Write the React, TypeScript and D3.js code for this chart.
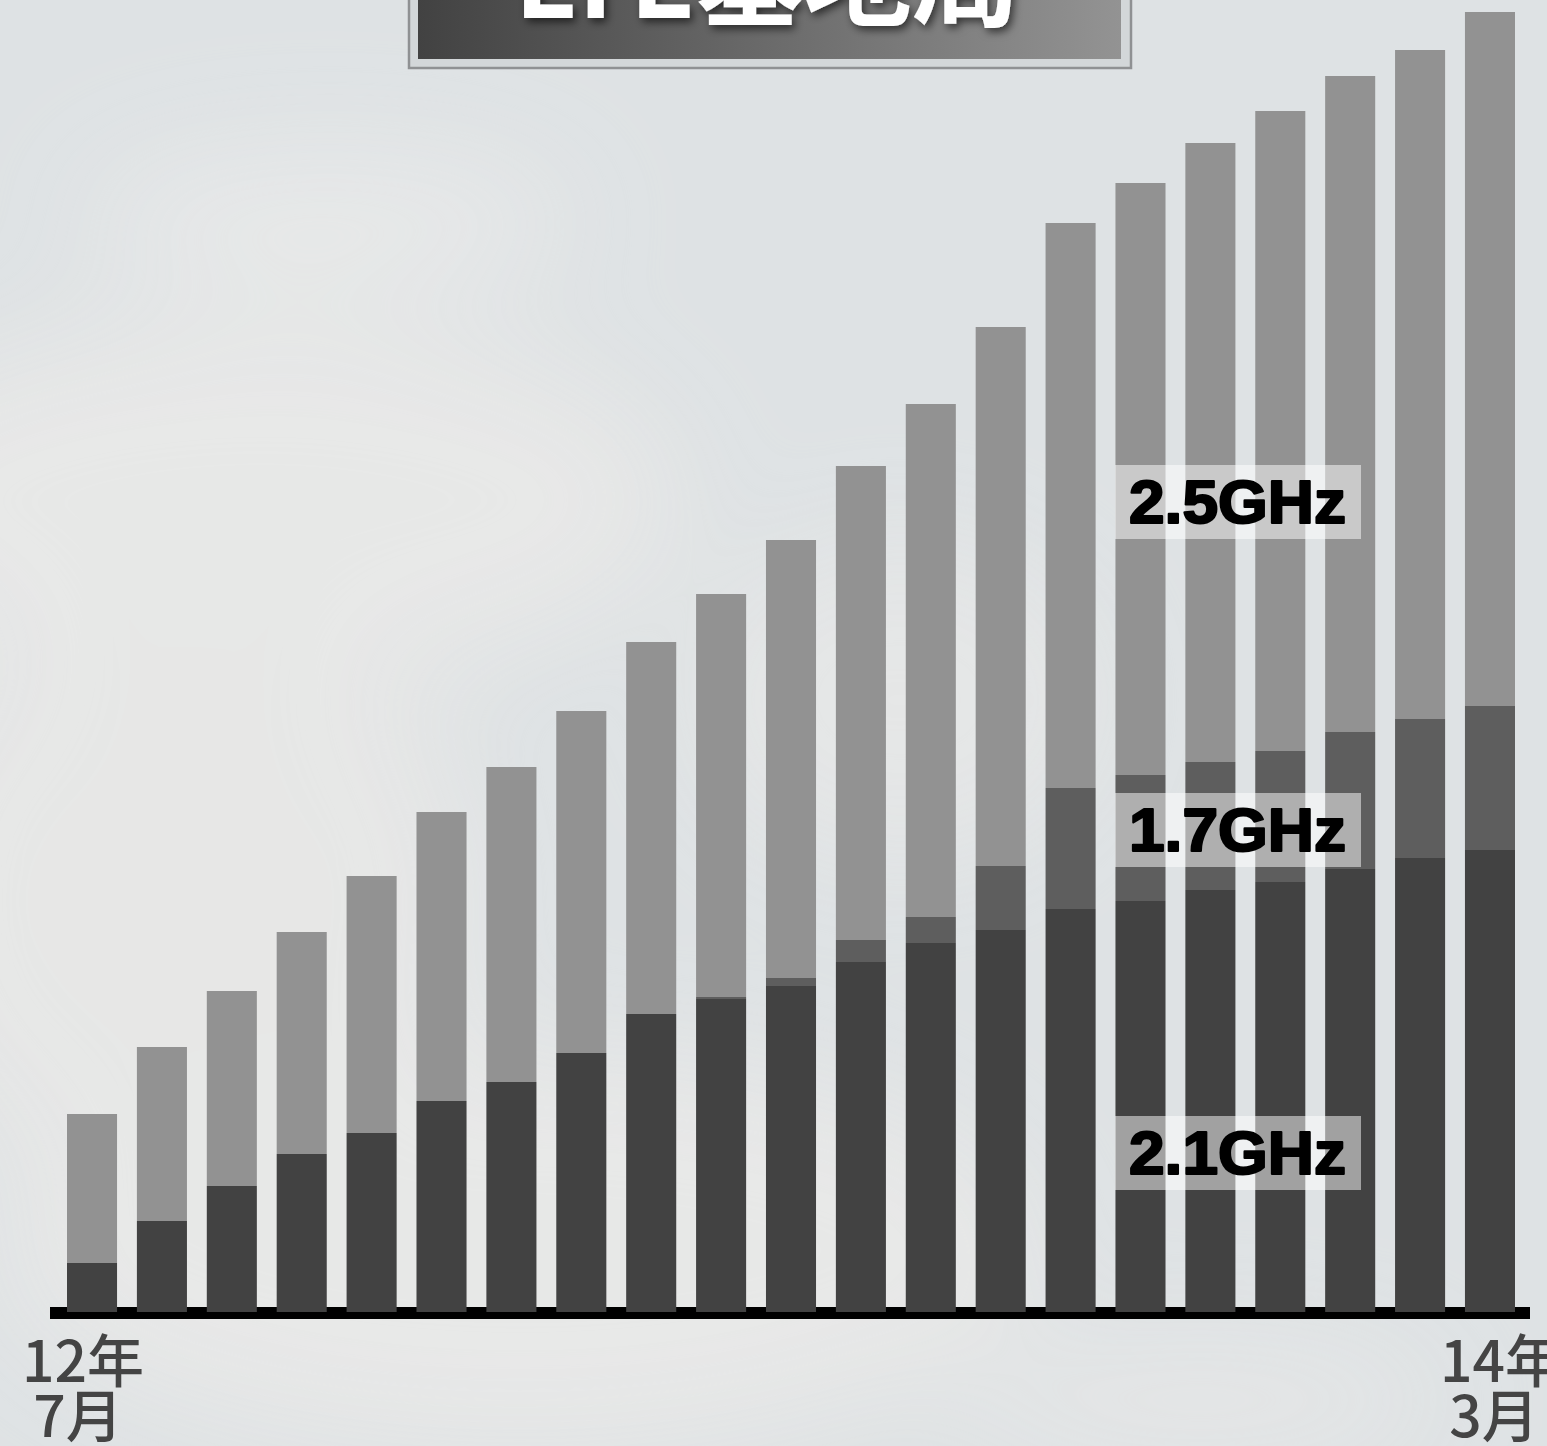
import { useEffect } from "react";
import * as d3 from "d3";

// months from 12年7月 to 14年3月
const months = [
  "2012-07", "2012-08", "2012-09", "2012-10", "2012-11", "2012-12",
  "2013-01", "2013-02", "2013-03", "2013-04", "2013-05", "2013-06",
  "2013-07", "2013-08", "2013-09", "2013-10", "2013-11", "2013-12",
  "2014-01", "2014-02", "2014-03",
];

// base stations, arbitrary units
const band21 = [4.9, 9.1, 12.6, 15.8, 17.9, 21.1, 23.0, 25.9, 29.8, 31.3, 32.6, 35.0, 36.9, 38.2, 40.3, 41.1, 42.2, 43.0, 44.3, 45.4, 46.2];
const band17 = [0, 0, 0, 0, 0, 0, 0, 0, 0, 0.2, 0.8, 2.2, 2.6, 6.4, 12.1, 12.6, 12.8, 13.1, 13.7, 13.9, 14.4];
const band25 = [14.9, 17.4, 19.5, 22.2, 25.7, 28.9, 31.5, 34.2, 37.2, 40.3, 43.8, 47.4, 51.3, 53.9, 56.5, 59.2, 61.9, 64.0, 65.6, 66.9, 69.4];

const seriesKeys = ["2.1GHz", "1.7GHz", "2.5GHz"];
const seriesColors = ["#424242", "#5e5e5e", "#929292"];

const firstTick = ["12年", "7月"];
const lastTick = ["14年", "3月"];

const W = 1547;
const H = 1446;

type Row = { month: string; [k: string]: number | string };

export default function App() {
  useEffect(() => {
    document.body.style.margin = "0";
  }, []);

  const rows: Row[] = months.map((m, i) => ({
    month: m,
    "2.1GHz": band21[i],
    "1.7GHz": band17[i],
    "2.5GHz": band25[i],
  }));

  const stack = d3.stack<Row>().keys(seriesKeys).value((d, k) => d[k] as number);
  const layers = stack(rows);

  const x = d3.scaleBand().domain(months).range([67, 1515]).paddingInner(0.284).paddingOuter(0);
  const y = d3.scaleLinear().domain([0, 130]).range([1312, 12]);

  // label boxes sit on top of the right-hand bars
  const labels = [
    { text: "2.5GHz", top: 465 },
    { text: "1.7GHz", top: 793 },
    { text: "2.1GHz", top: 1116 },
  ];

  const x0 = (x(months[0]) ?? 0) + x.bandwidth() / 2;
  const xN = (x(months[months.length - 1]) ?? 0) + x.bandwidth() / 2;

  return (
    <svg width={W} height={H} style={{ display: "block" }}>
      <defs>
        <linearGradient id="titleGrad" x1="0" x2="1" y1="0" y2="0">
          <stop offset="0" stopColor="#424242" />
          <stop offset="1" stopColor="#939393" />
        </linearGradient>
        <filter id="blur" x="-50%" y="-50%" width="200%" height="200%">
          <feGaussianBlur stdDeviation="60" />
        </filter>
        <filter id="shadow" x="-10%" y="-50%" width="120%" height="200%">
          <feDropShadow dx="3" dy="4" stdDeviation="4" floodColor="#000" floodOpacity="0.6" />
        </filter>
      </defs>

      {/* cloudy background */}
      <rect width={W} height={H} fill="#dee2e4" />
      <g filter="url(#blur)" opacity={0.9}>
        <ellipse cx={330} cy={220} rx={250} ry={70} fill="#e9eaea" />
        <ellipse cx={260} cy={500} rx={420} ry={180} fill="#e9e9e8" />
        <ellipse cx={180} cy={900} rx={300} ry={300} fill="#e8e8e7" />
        <ellipse cx={520} cy={1250} rx={520} ry={200} fill="#e9e9e8" />
        <ellipse cx={900} cy={700} rx={200} ry={160} fill="#e6e7e7" />
        <ellipse cx={1200} cy={1400} rx={250} ry={60} fill="#e6e7e7" />
      </g>

      {/* title plate */}
      <rect x={409} y={-40} width={722} height={108} fill="#d3d7d9" stroke="#8f9193" strokeWidth={2.5} />
      <rect x={418} y={-40} width={703} height={99} fill="url(#titleGrad)" />
      <text
        x={767}
        y={18}
        textAnchor="middle"
        fontFamily="'Noto Sans CJK JP', sans-serif"
        fontWeight={700}
        fontSize={108}
        fill="#fff"
        filter="url(#shadow)"
      >
        LTE基地局
      </text>

      {/* baseline */}
      <rect x={50} y={1307} width={1480} height={12} fill="#000" />

      {/* stacked bars */}
      {layers.map((layer, li) => (
        <g key={layer.key} fill={seriesColors[li]}>
          {layer.map((d, i) => {
            const h = y(d[0]) - y(d[1]);
            if (h <= 0) return null;
            return (
              <rect
                key={months[i]}
                x={x(months[i])}
                y={y(d[1])}
                width={x.bandwidth()}
                height={h}
              />
            );
          })}
        </g>
      ))}

      {/* band labels */}
      {labels.map((l) => (
        <g key={l.text}>
          <rect x={1115} y={l.top} width={246} height={74} fill="#fff" fillOpacity={0.5} />
          <text
            x={1129}
            y={l.top + 58}
            fontFamily="'Liberation Sans', Arial, sans-serif"
            fontWeight={700}
            fontSize={61}
            textLength={217}
            lengthAdjust="spacingAndGlyphs"
            fill="#000"
            stroke="#000"
            strokeWidth={2.2}
            strokeLinejoin="round"
          >
            {l.text}
          </text>
        </g>
      ))}

      {/* end ticks */}
      <g fontFamily="'Noto Sans CJK JP', sans-serif" fontWeight={500} fontSize={57} fill="#444" textAnchor="middle">
        <text x={x0 - 9} y={1382}>{firstTick[0]}</text>
        <text x={x0 - 14} y={1437}>{firstTick[1]}</text>
        <text x={xN + 11} y={1382}>{lastTick[0]}</text>
        <text x={xN + 4} y={1437}>{lastTick[1]}</text>
      </g>
    </svg>
  );
}
